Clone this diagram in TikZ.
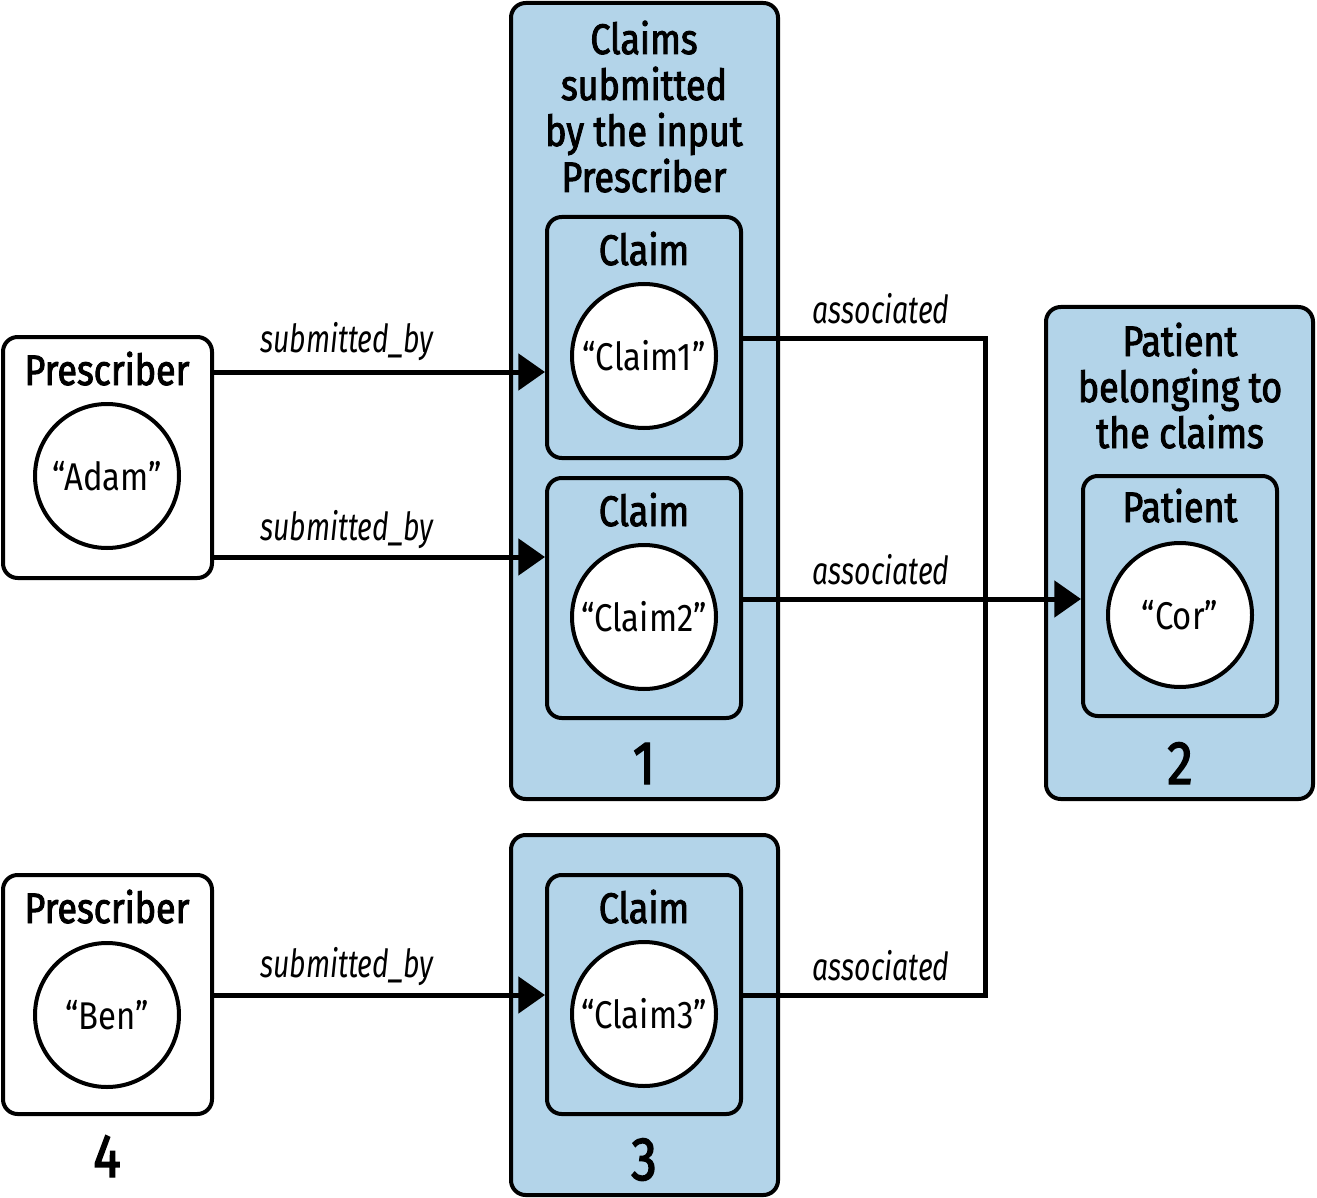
\documentclass[tikz,border=0pt]{standalone}
\usepackage{fontspec}
\setmainfont{Fira Sans}[FakeStretch=0.85]
\newfontfamily\headfont{Fira Sans}[FakeStretch=0.84, FakeBold=2.2]
\newfontfamily\lblfont{Fira Sans}[FakeStretch=0.735]
\usetikzlibrary{arrows.meta}
\definecolor{grp}{RGB}{179,212,233}
\begin{document}
\begin{tikzpicture}[x=0.75pt,y=-0.75pt,
  sz/.style 2 args={minimum width=#1*0.75pt, minimum height=#2*0.75pt},
  box/.style={draw, line width=3pt, rounded corners=11pt, inner sep=0pt, fill=white},
  grpbox/.style={box, fill=grp},
  val/.style={circle, draw, fill=white, line width=3pt, minimum size=108pt, inner sep=0pt, font=\fontsize{29}{32}\selectfont},
  ttl/.style={anchor=base, align=center, inner sep=0pt, font=\headfont\fontsize{32}{34.5}\selectfont},
  num/.style={anchor=base, inner sep=0pt, font=\headfont\fontsize{46}{50}\selectfont},
  lbl/.style={anchor=base, inner sep=0pt, font=\lblfont\itshape\fontsize{29}{32}\selectfont},
  arr/.style={line width=3.75pt, -{Triangle[length=20pt,width=27pt]}},
  ln/.style={line width=3.75pt, line join=miter}]
\useasboundingbox (0,0) rectangle (1317,1198);

% groups
\node[grpbox, sz={267}{796}] (grp1) at (644.5,401) {};
\node[grpbox, sz={267}{492}] (grp2) at (1179.5,553) {};
\node[grpbox, sz={267}{360}] (grp3) at (644.5,1015) {};

% entity boxes
\node[box, sz={209}{241}] (pr1) at (107.5,457.5) {};
\node[box, sz={209}{239}] (pr2) at (107.5,994.5) {};
\node[grpbox, sz={194}{241}] (cb1) at (644,337.5) {};
\node[grpbox, sz={194}{240}] (cb2) at (644,598) {};
\node[grpbox, sz={194}{239}] (cb3) at (644,994.5) {};
\node[grpbox, sz={194}{240}] (pb) at (1180,596) {};

% values
\node[val] (adam) at (107,476) {“Adam”};
\node[val] (ben) at (107,1015) {“Ben”};
\node[val] (c1) at (644,356) {“Claim1”};
\node[val] (c2) at (644,617) {“Claim2”};
\node[val] (c3) at (644,1014) {“Claim3”};
\node[val] (cor) at (1180,615) {“Cor”};

% titles (base anchor = baseline of last line)
\node[ttl] (t1) at (644,192) {Claims\\submitted\\by the input\\Prescriber};
\node[ttl] (t2) at (1180,448) {Patient\\belonging to\\the claims};
\node[ttl] (tp1) at (107,385) {Prescriber};
\node[ttl] (tp2) at (107,923) {Prescriber};
\node[ttl] (tc1) at (644,265) {Claim};
\node[ttl] (tc2) at (644,526) {Claim};
\node[ttl] (tc3) at (644,923) {Claim};
\node[ttl] (tpt) at (1180,522) {Patient};

% numbers
\node[num] (n1) at (644,784) {1};
\node[num] (n2) at (1180,784) {2};
\node[num] (n3) at (644,1180) {3};
\node[num] (n4) at (107,1177) {4};

% connectors
\draw[arr] (pr1.east |- 0,372) -- (cb1.west |- 0,372);
\draw[arr] (pr1.east |- 0,557) -- (cb2.west |- 0,557);
\draw[arr] (pr2.east |- 0,995) -- (cb3.west |- 0,995);
\coordinate (j1) at (985,338);
\coordinate (j3) at (985,995);
\draw[ln] (cb1.east |- j1) -- (j1) -- (j3) -- (cb3.east |- j3);
\draw[arr] (cb2.east |- 0,599) -- (pb.west |- 0,599);

% connector labels
\node[lbl] (l1) at (347,352) {submitted\_by};
\node[lbl] (l2) at (347,540) {submitted\_by};
\node[lbl] (l3) at (347,977) {submitted\_by};
\node[lbl] (l4) at (881,324) {associated};
\node[lbl] (l5) at (881,584) {associated};
\node[lbl] (l6) at (881,980) {associated};
\end{tikzpicture}
\end{document}
